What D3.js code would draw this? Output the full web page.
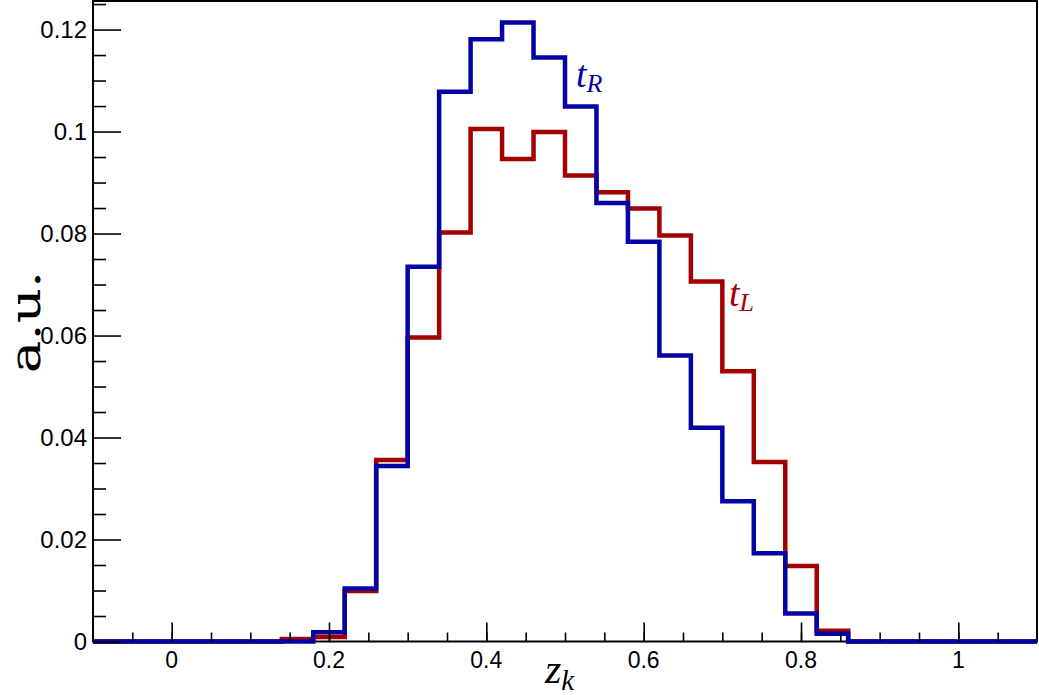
<!DOCTYPE html>
<html>
<head>
<meta charset="utf-8">
<script src="https://cdn.jsdelivr.net/npm/d3@7"></script>
<style>
  html, body { margin: 0; padding: 0; background: #fff; }
  svg { display: block; }
</style>
</head>
<body>
<svg id="chart" width="1039" height="695"></svg>
<script>
// ---- data ----
const binStart = -0.1;
const binWidth = 0.04;
// t_L (red) bin contents, bins from -0.1 to 1.1 in steps of 0.04
const tL = [0, 0, 0, 0, 0, 0, 0.0005, 0.0009, 0.0099, 0.0356, 0.0596, 0.0802, 0.1005, 0.0946,
            0.0999, 0.0914, 0.0881, 0.0849, 0.0796, 0.0706, 0.0530, 0.0352, 0.0148, 0.0021, 0, 0, 0, 0, 0, 0];
// t_R (blue) bin contents
const tR = [0, 0, 0, 0, 0, 0, 0, 0.0018, 0.0104, 0.0344, 0.0735, 0.1078, 0.1181, 0.1214,
            0.1145, 0.1049, 0.0860, 0.0784, 0.0561, 0.0419, 0.0275, 0.0173, 0.0055, 0.0015, 0, 0, 0, 0, 0, 0];
const xMajorTicks = [0, 0.2, 0.4, 0.6, 0.8, 1];
const xMinorTicks = [-0.05, 0, 0.05, 0.1, 0.15, 0.2, 0.25, 0.3, 0.35, 0.4, 0.45, 0.5, 0.55, 0.6, 0.65, 0.7, 0.75, 0.8, 0.85, 0.9, 0.95, 1, 1.05];
const yMajorTicks = [0, 0.02, 0.04, 0.06, 0.08, 0.1, 0.12];
const yTickLabels = ["0", "0.02", "0.04", "0.06", "0.08", "0.1", "0.12"];
const yMinorTicks = [0.005, 0.01, 0.015, 0.025, 0.03, 0.035, 0.045, 0.05, 0.055, 0.065, 0.07, 0.075, 0.085, 0.09, 0.095, 0.105, 0.11, 0.115, 0.125];

// ---- layout ----
const L = 93, R = 1037, T = 1, B = 641.5;
const x = d3.scaleLinear().domain([-0.1, 1.1]).range([L, R]);
const y = d3.scaleLinear().domain([0, 0.1256]).range([B, T]);

const svg = d3.select("#chart");

// frame
svg.append("rect").attr("x", L).attr("y", T).attr("width", R - L).attr("height", B - T)
  .attr("fill", "none").attr("stroke", "#000").attr("stroke-width", 2);

// histogram outlines
function stepPoints(vals) {
  const pts = [];
  vals.forEach((v, i) => {
    const a = binStart + i * binWidth, b = a + binWidth;
    pts.push([a, v], [b, v]);
  });
  return pts;
}
const line = d3.line().x(d => x(d[0])).y(d => y(d[1]));

svg.append("path").attr("d", line(stepPoints(tL)))
  .attr("fill", "none").attr("stroke", "#a30000").attr("stroke-width", 4.5)
  .attr("stroke-linejoin", "miter");
svg.append("path").attr("d", line(stepPoints(tR)))
  .attr("fill", "none").attr("stroke", "#0303a6").attr("stroke-width", 4.5)
  .attr("stroke-linejoin", "miter");

// axes
const fontSans = "'Liberation Sans', Arial, Helvetica, sans-serif";
const xMinor = svg.append("g").attr("transform", `translate(0,${B})`)
  .call(d3.axisTop(x).tickValues(xMinorTicks).tickSize(9).tickFormat(""));
const xMajor = svg.append("g").attr("transform", `translate(0,${B})`)
  .call(d3.axisTop(x).tickValues(xMajorTicks).tickSize(19).tickFormat(""));
const yMinor = svg.append("g").attr("transform", `translate(${L},0)`)
  .call(d3.axisRight(y).tickValues(yMinorTicks).tickSize(13).tickFormat(""));
const yMajor = svg.append("g").attr("transform", `translate(${L},0)`)
  .call(d3.axisRight(y).tickValues(yMajorTicks).tickSize(28).tickFormat(""));
[xMinor, xMajor, yMinor, yMajor].forEach(g => {
  g.select(".domain").remove();
  g.selectAll(".tick line").attr("stroke", "#000").attr("stroke-width", 1.6);
});

// tick labels
svg.append("g").selectAll("text").data(xMajorTicks).join("text")
  .attr("x", d => x(d)).attr("y", 668)
  .attr("text-anchor", "middle")
  .style("font-family", fontSans).style("font-size", "23px")
  .text(d => d3.format("")(d));
svg.append("g").selectAll("text").data(yMajorTicks).join("text")
  .attr("x", 87).attr("y", d => y(d) + 8)
  .attr("text-anchor", "end")
  .style("font-family", fontSans).style("font-size", "24px")
  .text((d, i) => yTickLabels[i]);

// axis titles (math-style)
const fontSerif = "'Liberation Serif', 'DejaVu Serif', serif";
svg.append("text")
  .attr("transform", "translate(40,322) rotate(-90) scale(1.3,1)")
  .attr("text-anchor", "middle")
  .style("font-family", "'DejaVu Serif', serif").style("font-size", "42px")
  .text("a.u.");

const zk = svg.append("text").attr("x", 545).attr("y", 683)
  .style("font-family", fontSerif).style("font-size", "42px").style("font-style", "italic");
zk.append("tspan").text("z");
zk.append("tspan").attr("dy", 7).style("font-size", "29px").text("k");

// series labels
const tRlab = svg.append("text").attr("x", 576).attr("y", 87)
  .attr("fill", "#0303a6")
  .style("font-family", fontSerif).style("font-size", "38px").style("font-style", "italic");
tRlab.append("tspan").text("t");
tRlab.append("tspan").attr("dy", 5).style("font-size", "26px").text("R");

const tLlab = svg.append("text").attr("x", 729).attr("y", 306)
  .attr("fill", "#a30000")
  .style("font-family", fontSerif).style("font-size", "38px").style("font-style", "italic");
tLlab.append("tspan").text("t");
tLlab.append("tspan").attr("dy", 5).style("font-size", "26px").text("L");
</script>
</body>
</html>
